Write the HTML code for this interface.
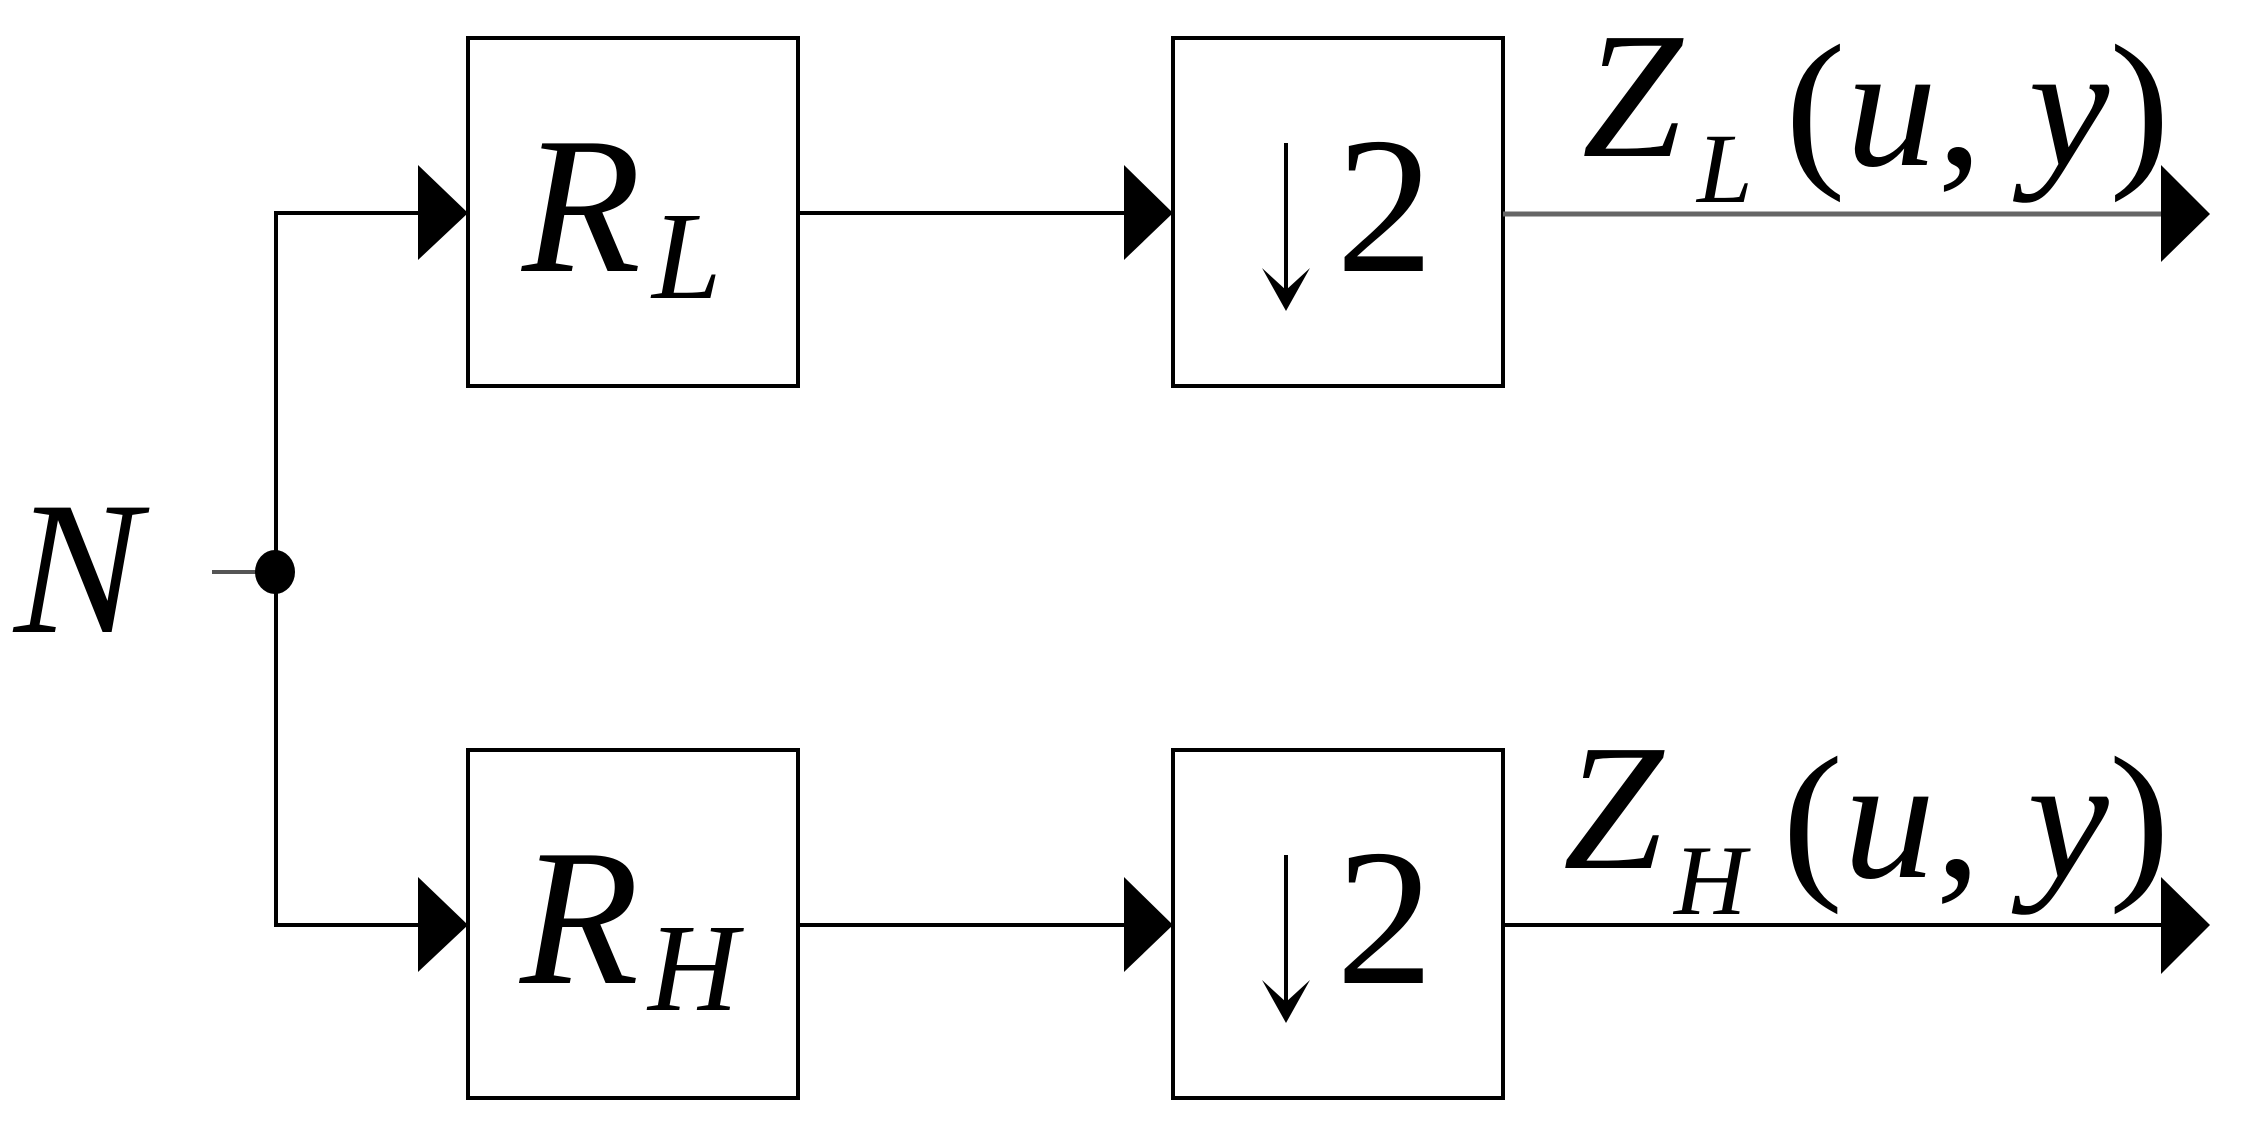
<!DOCTYPE html>
<html><head><meta charset="utf-8"><style>html,body{margin:0;padding:0;background:#fff}svg{display:block}</style></head>
<body>
<svg width="2242" height="1124" viewBox="0 0 2242 1124" xmlns="http://www.w3.org/2000/svg" font-family="'Liberation Serif', serif">
<g fill="none" stroke="#000" stroke-width="4">
<rect x="468" y="38" width="330" height="348"/>
<rect x="1173" y="38" width="330" height="348"/>
<rect x="468" y="750" width="330" height="348"/>
<rect x="1173" y="750" width="330" height="348"/>
<polyline points="420,213 276,213 276,925 420,925"/>
<line x1="798" y1="213" x2="1125" y2="213"/>
<line x1="798" y1="925" x2="1125" y2="925"/>
<line x1="1503" y1="925" x2="2165" y2="925"/>
<line x1="1286" y1="143" x2="1286" y2="300"/>
<line x1="1286" y1="855" x2="1286" y2="1012"/>
</g>
<line x1="1503" y1="214" x2="2165" y2="214" stroke="#666" stroke-width="5"/>
<line x1="212" y1="572" x2="260" y2="572" stroke="#555" stroke-width="4"/>
<ellipse cx="275" cy="572" rx="20" ry="22" fill="#000"/>
<g fill="#000">
<polygon points="418,165 468,213 418,260"/>
<polygon points="1124,165 1173,213 1124,260"/>
<polygon points="418,877 468,925 418,972"/>
<polygon points="1124,877 1173,925 1124,972"/>
<polygon points="2161,165 2210,214 2161,262"/>
<polygon points="2161,877 2210,925 2161,974"/>
<polygon points="1262,268 1286,311 1310,268 1286,290"/>
<polygon points="1262,980 1286,1023 1310,980 1286,1002"/>
</g>
<g fill="#000" font-style="italic">
<text x="14" y="632" font-size="190">N</text>
<text x="522" y="271" font-size="195">R</text>
<text x="652" y="298" font-size="125">L</text>
<text x="520" y="983" font-size="195">R</text>
<text x="648" y="1010" font-size="125">H</text>
<text x="1582" y="156" font-size="180">Z</text>
<text x="1697" y="202" font-size="100">L</text>
<text x="1563" y="868" font-size="180">Z</text>
<text x="1674" y="914" font-size="100">H</text>
</g>
<g fill="#000" font-size="195">
<text x="1336" y="271">2</text>
<text x="1336" y="983">2</text>
</g>
<text x="1785" y="165" font-size="175" textLength="385" lengthAdjust="spacingAndGlyphs">(<tspan font-style="italic">u</tspan>, <tspan font-style="italic">y</tspan>)</text>
<text x="1782" y="877" font-size="175" textLength="388" lengthAdjust="spacingAndGlyphs">(<tspan font-style="italic">u</tspan>, <tspan font-style="italic">y</tspan>)</text>
</svg>
</body></html>
